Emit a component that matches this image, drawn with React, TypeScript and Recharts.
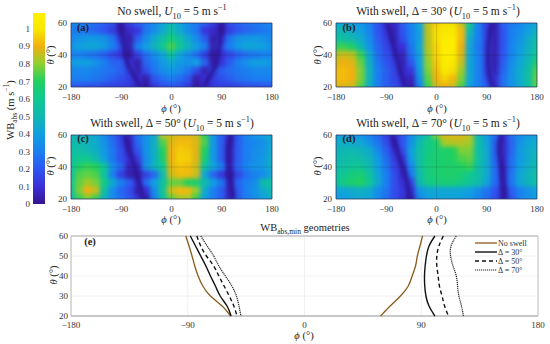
import React from 'react';
import {
  BarChart,
  Bar,
  ScatterChart,
  Scatter,
  XAxis,
  YAxis,
  CartesianGrid,
  ReferenceArea,
  ReferenceLine,
} from 'recharts';

const PHI_COLS = [-180, -165, -150, -135, -120, -105, -90, -75, -60, -45, -30, -15, 0, 15, 30, 45, 60, 75, 90, 105, 120, 135, 150, 165, 180];
const THETA_ROWS = [60, 55, 50, 45, 40, 35, 30, 25, 20];
const PHI_TICKS = [-180, -90, 0, 90, 180];

// WB values per theta row (60 down to 20), per phi column
const CELLS_A = [
  [.33, .30, .28, .25, .22, .18, .05, .14, .22, .28, .34, .42, .50, .42, .34, .28, .22, .14, .05, .18, .22, .25, .28, .30, .33],
  [.30, .28, .26, .24, .20, .14, .04, .08, .12, .28, .34, .44, .54, .44, .34, .28, .12, .08, .04, .14, .20, .24, .26, .28, .30],
  [.32, .36, .38, .38, .36, .28, .12, .04, .22, .34, .44, .54, .64, .54, .44, .34, .22, .04, .12, .28, .36, .38, .38, .36, .32],
  [.36, .40, .42, .42, .38, .30, .20, .05, .30, .40, .48, .60, .74, .60, .48, .40, .30, .05, .20, .30, .38, .42, .42, .40, .36],
  [.30, .30, .28, .26, .22, .16, .10, .02, .14, .26, .34, .42, .56, .42, .34, .26, .14, .02, .10, .16, .22, .26, .28, .30, .30],
  [.38, .40, .40, .36, .30, .24, .22, .12, .04, .24, .30, .38, .44, .38, .36, .40, .24, .04, .12, .22, .30, .36, .40, .40, .38],
  [.32, .32, .32, .30, .28, .26, .22, .16, .05, .18, .28, .34, .38, .34, .28, .18, .05, .16, .22, .26, .28, .30, .32, .32, .32],
  [.30, .30, .30, .28, .26, .22, .18, .14, .10, .04, .20, .26, .30, .26, .20, .04, .10, .14, .18, .22, .26, .28, .30, .30, .30],
  [.20, .20, .18, .18, .16, .14, .14, .12, .08, .02, .12, .18, .20, .18, .12, .02, .08, .12, .14, .14, .16, .18, .18, .20, .20],
];
const CELLS_B = [
  [.45, .42, .40, .36, .30, .20, .10, .08, .22, .32, .42, .85, .95, .98, .98, .85, .60, .30, .15, .06, .22, .28, .32, .38, .42],
  [.50, .48, .44, .40, .32, .20, .12, .06, .20, .30, .40, .85, .98, 1.0, 1.0, .92, .50, .30, .16, .05, .20, .30, .34, .40, .48],
  [.56, .54, .50, .44, .34, .22, .14, .06, .18, .30, .40, .84, .98, 1.04, 1.04, .92, .44, .30, .18, .05, .20, .30, .36, .44, .54],
  [.72, .72, .68, .50, .36, .24, .16, .10, .10, .28, .42, .84, .96, 1.07, 1.07, .90, .42, .28, .18, .05, .20, .32, .38, .46, .56],
  [.84, .86, .84, .72, .44, .26, .18, .12, .06, .26, .40, .82, .96, 1.07, 1.05, .88, .42, .30, .18, .05, .20, .32, .40, .48, .60],
  [.88, .90, .88, .76, .46, .28, .20, .14, .06, .20, .40, .80, .94, 1.04, 1.0, .86, .42, .30, .18, .05, .22, .34, .42, .50, .68],
  [.92, .92, .90, .78, .48, .30, .22, .16, .08, .12, .38, .78, .92, 1.0, .98, .82, .42, .30, .18, .06, .24, .36, .44, .54, .74],
  [.92, .92, .90, .78, .48, .30, .22, .16, .10, .06, .35, .75, .90, .96, .92, .78, .42, .30, .20, .10, .26, .36, .44, .54, .76],
  [.88, .88, .86, .74, .46, .30, .22, .18, .12, .03, .30, .72, .86, .90, .86, .74, .40, .30, .22, .08, .26, .36, .44, .54, .74],
];
const CELLS_C = [
  [.48, .48, .46, .42, .34, .24, .14, .08, .26, .36, .44, .84, .86, .88, .88, .86, .72, .38, .22, .08, .22, .32, .36, .40, .44],
  [.52, .50, .48, .44, .36, .26, .16, .06, .24, .36, .46, .74, .88, .92, .92, .88, .74, .38, .22, .06, .22, .30, .32, .36, .42],
  [.54, .54, .50, .46, .38, .28, .18, .08, .20, .36, .46, .70, .90, .95, .94, .88, .70, .38, .22, .06, .22, .30, .34, .36, .44],
  [.56, .60, .60, .52, .40, .28, .18, .10, .14, .34, .46, .68, .90, .96, .95, .88, .66, .38, .22, .06, .22, .30, .34, .38, .46],
  [.56, .68, .72, .70, .58, .34, .24, .06, .08, .36, .48, .60, .88, .94, .92, .86, .55, .42, .30, .10, .24, .32, .36, .38, .46],
  [.56, .74, .76, .74, .56, .30, .14, .04, .04, .14, .25, .50, .86, .92, .92, .86, .42, .24, .12, .02, .16, .26, .30, .34, .42],
  [.60, .76, .82, .78, .62, .44, .30, .22, .10, .26, .40, .55, .76, .76, .70, .66, .52, .40, .28, .08, .24, .30, .34, .52, .56],
  [.56, .78, .90, .85, .54, .34, .24, .18, .05, .10, .34, .58, .86, .92, .92, .80, .44, .30, .22, .06, .22, .30, .36, .44, .50],
  [.52, .72, .78, .72, .48, .34, .26, .20, .12, .04, .30, .55, .76, .82, .82, .72, .40, .30, .22, .06, .22, .30, .34, .40, .46],
];
const CELLS_D = [
  [.42, .40, .38, .36, .30, .24, .14, .10, .20, .34, .46, .56, .78, .88, .88, .88, .84, .50, .40, .26, .10, .26, .34, .38, .40],
  [.45, .45, .44, .42, .36, .28, .18, .08, .20, .36, .50, .62, .66, .82, .84, .84, .82, .54, .42, .24, .08, .24, .36, .42, .45],
  [.48, .50, .50, .48, .44, .34, .22, .10, .18, .40, .54, .62, .66, .68, .70, .78, .78, .54, .44, .24, .08, .24, .38, .44, .48],
  [.50, .52, .54, .52, .48, .38, .26, .14, .12, .38, .54, .64, .66, .68, .70, .74, .76, .56, .44, .24, .08, .26, .38, .44, .50],
  [.52, .54, .58, .58, .50, .40, .28, .16, .10, .32, .54, .64, .66, .68, .68, .70, .72, .54, .44, .26, .08, .26, .40, .46, .52],
  [.54, .60, .64, .66, .56, .42, .30, .18, .08, .28, .52, .64, .66, .68, .68, .66, .60, .54, .44, .26, .08, .28, .42, .48, .54],
  [.56, .64, .68, .70, .60, .44, .30, .18, .10, .16, .50, .62, .64, .66, .66, .62, .58, .52, .42, .26, .10, .28, .42, .48, .54],
  [.42, .42, .44, .46, .44, .34, .28, .18, .12, .10, .36, .42, .42, .42, .42, .42, .40, .34, .28, .20, .06, .22, .30, .36, .40],
  [.40, .40, .42, .44, .42, .34, .26, .18, .12, .04, .32, .40, .42, .42, .42, .40, .38, .32, .26, .18, .06, .20, .30, .36, .40],
];

// minimum-WB curves, phi at each theta in CURVE_THETA
const CURVE_THETA = [60, 55, 50, 45, 40, 35, 30, 25, 20];
const NO_SWELL_LEFT = [-91.5, -89, -86.7, -84.6, -82, -78.4, -72.5, -63.5, -57];
const NO_SWELL_RIGHT = [91, 89, 87, 85.6, 83, 80, 74, 66, 58.7];
const D30_LEFT = [-88, -84, -80, -76, -72.5, -68.7, -65, -59.7, -56.6];
const D30_RIGHT = [100.5, 96, 94, 93, 92.5, 92.7, 93.6, 96, 100.5];
const D50_LEFT = [-83, -80, -75.6, -70, -66, -62, -58, -54.5, -52];
const D50_RIGHT = [107, 103.6, 102, 102, 103, 104, 106, 108, 111];
const D70_LEFT = [-80, -75, -70, -66, -61, -56, -52.5, -50.5, -49];
const D70_RIGHT = [117, 113, 112.6, 114.5, 117, 118, 119, 121, 122.5];

const CBAR_TICKS = [0, 0.1, 0.2, 0.3, 0.4, 0.5, 0.6, 0.7, 0.8, 0.9, 1];
const CBAR_MAX = 1.09;
const COLOR_VALUES = [0, 0.1, 0.2, 0.3, 0.4, 0.5, 0.6, 0.7, 0.8, 0.9, 1, 1.09];
const COLOR_STOPS = ['#35158f', '#3a30d8', '#2f55f0', '#1a80f0', '#10a0e0', '#10b8b0', '#10c890', '#20d060', '#90d030', '#f0b010', '#f8e800', '#fff000'];

const FONT = '"Liberation Serif", serif';
const TICK = { fill: '#333', fontSize: 9, fontFamily: FONT };

function hexToRgb(h: string) {
  return [1, 3, 5].map((i) => parseInt(h.slice(i, i + 2), 16));
}

function colorFor(v: number) {
  let i = 0;
  while (i < COLOR_VALUES.length - 2 && v > COLOR_VALUES[i + 1]) i++;
  const t = Math.min(1, Math.max(0, (v - COLOR_VALUES[i]) / (COLOR_VALUES[i + 1] - COLOR_VALUES[i])));
  const a = hexToRgb(COLOR_STOPS[i]);
  const b = hexToRgb(COLOR_STOPS[i + 1]);
  return `rgb(${a.map((c, k) => Math.round(c + (b[k] - c) * t)).join(',')})`;
}

const curve = (phis: number[]) => phis.map((phi, i) => ({ phi, theta: CURVE_THETA[i] }));
const noMark = () => <g />;
const minusTick = (v: number) => String(v).replace('-', '−');

const PLOT_W = 201;
const PLOT_H = 64;
const M_TOP = 20;
const Y_W = 45;

function HeatPanel({ left, top, cells, valleys }: any) {
  const cw = PLOT_W / (PHI_COLS.length - 1);
  const ch = PLOT_H / (THETA_ROWS.length - 1);
  const data = cells.flatMap((row: number[], r: number) =>
    row.map((value, c) => ({ phi: PHI_COLS[c], theta: THETA_ROWS[r], value }))
  );
  const cell = (p: any) => {
    const { phi, theta, value } = p.payload;
    // edge cells overdraw so the blur does not fade at the frame
    const padL = phi === -180 ? 10 : 0;
    const padR = phi === 180 ? 10 : 0;
    const padT = theta === 60 ? 10 : 0;
    const padB = theta === 20 ? 10 : 0;
    return (
      <rect
        x={p.cx - cw / 2 - padL - 0.4}
        y={p.cy - ch / 2 - padT - 0.4}
        width={cw + padL + padR + 0.8}
        height={ch + padT + padB + 0.8}
        fill={colorFor(value)}
      />
    );
  };
  return (
    <>
      {/* the cells sit in their own chart, cut to the plot, so the blur stays inside the frame */}
      <div style={{ position: 'absolute', left, top, width: PLOT_W, height: PLOT_H, overflow: 'hidden' }}>
        <ScatterChart width={PLOT_W} height={PLOT_H} margin={{ top: 0, right: 0, bottom: 0, left: 0 }}>
          <XAxis type="number" dataKey="phi" domain={[-180, 180]} hide />
          <YAxis type="number" dataKey="theta" domain={[20, 60]} hide />
          <Scatter className="heat-cells" data={data} shape={cell} isAnimationActive={false} />
          {valleys.map((phis: number[], i: number) => (
            <Scatter
              key={i}
              className="heat-valley"
              data={curve(phis)}
              shape={noMark}
              line={{ stroke: '#2c1698', strokeWidth: 4.5 }}
              lineJointType="natural"
              isAnimationActive={false}
            />
          ))}
        </ScatterChart>
      </div>
      <div style={{ position: 'absolute', left: left - Y_W, top: top - M_TOP }}>
        <ScatterChart
          width={Y_W + PLOT_W + 15}
          height={M_TOP + PLOT_H + 30}
          margin={{ top: M_TOP, right: 15, bottom: 0, left: 0 }}
        >
          <XAxis
            type="number"
            dataKey="phi"
            domain={[-180, 180]}
            ticks={PHI_TICKS}
            height={30}
            tick={TICK}
            tickSize={0}
            tickMargin={7}
            axisLine={false}
            interval={0}
            tickFormatter={minusTick}
          />
          <YAxis
            type="number"
            dataKey="theta"
            domain={[20, 60]}
            ticks={[20, 40, 60]}
            width={Y_W}
            tick={TICK}
            tickSize={0}
            tickMargin={4}
            axisLine={false}
            interval={0}
          />
          {/* invisible series so this frame chart draws its axes */}
          <Scatter data={data} shape={noMark} isAnimationActive={false} />
          <ReferenceLine y={40} stroke="#000" strokeOpacity={0.12} />
          <ReferenceLine x={0} stroke="#000" strokeOpacity={0.12} />
          <ReferenceArea x1={-180} x2={180} y1={20} y2={60} fill="none" stroke="#24305c" strokeOpacity={0.75} />
        </ScatterChart>
      </div>
    </>
  );
}

const SERIES = [
  { name: 'No swell', left: NO_SWELL_LEFT, right: NO_SWELL_RIGHT, stroke: '#8a5a1c', width: 1.3, dash: undefined },
  { name: 'Δ = 30°', left: D30_LEFT, right: D30_RIGHT, stroke: '#111', width: 1.4, dash: undefined },
  { name: 'Δ = 50°', left: D50_LEFT, right: D50_RIGHT, stroke: '#111', width: 1.4, dash: '4 3' },
  { name: 'Δ = 70°', left: D70_LEFT, right: D70_RIGHT, stroke: '#222', width: 1.2, dash: '1.2 0.8' },
];

function CurveLegend() {
  return (
    <div style={{ position: 'absolute', left: 475, top: 238.5, fontFamily: FONT, fontSize: 8, color: '#333' }}>
      {SERIES.map((s) => (
        <div key={s.name} style={{ display: 'flex', alignItems: 'center', height: 9 }}>
          <svg width={22} height={4} style={{ marginRight: 1 }}>
            <line x1={0} x2={22} y1={2} y2={2} stroke={s.stroke} strokeWidth={s.width} strokeDasharray={s.dash} />
          </svg>
          {s.name}
        </div>
      ))}
    </div>
  );
}

function CurvesPanel() {
  return (
    <div style={{ position: 'absolute', left: 71 - Y_W, top: 236 - 10 }}>
      <ScatterChart width={Y_W + 467 + 12} height={10 + 80 + 28} margin={{ top: 10, right: 12, bottom: 0, left: 0 }}>
        <CartesianGrid stroke="#ececec" strokeWidth={0.8} />
        <XAxis
          type="number"
          dataKey="phi"
          domain={[-180, 180]}
          ticks={PHI_TICKS}
          height={28}
          tick={TICK}
          tickSize={0}
          tickMargin={6}
          axisLine={{ stroke: '#9a9a9a' }}
          interval={0}
          tickFormatter={minusTick}
        />
        <YAxis
          type="number"
          dataKey="theta"
          domain={[20, 60]}
          ticks={[20, 30, 40, 50, 60]}
          width={Y_W}
          tick={TICK}
          tickSize={0}
          tickMargin={3}
          axisLine={{ stroke: '#bdbdbd' }}
          interval={0}
        />
        <ReferenceLine y={60} stroke="#c4c4c4" strokeWidth={1.6} />
        <ReferenceLine x={180} stroke="#c4c4c4" />
        {SERIES.flatMap((s) =>
          [s.left, s.right].map((phis, i) => (
            <Scatter
              key={s.name + i}
              name={s.name}
              data={curve(phis)}
              shape={noMark}
              line={{ stroke: s.stroke, strokeWidth: s.width, strokeDasharray: s.dash }}
              lineJointType="natural"
              isAnimationActive={false}
            />
          ))
        )}
      </ScatterChart>
    </div>
  );
}

function Colorbar() {
  return (
    <div style={{ position: 'absolute', left: 0, top: 5 }}>
      <BarChart
        width={46}
        height={207}
        data={[{ name: 'WB', top: CBAR_MAX }]}
        margin={{ top: 8, right: 1, bottom: 8, left: 0 }}
        barCategoryGap={0}
      >
        <defs>
          <linearGradient id="cbar" x1="0" y1="1" x2="0" y2="0">
            {COLOR_VALUES.map((v, i) => (
              <stop key={v} offset={v / CBAR_MAX} stopColor={COLOR_STOPS[i]} />
            ))}
          </linearGradient>
        </defs>
        <XAxis dataKey="name" hide />
        <YAxis
          type="number"
          domain={[0, CBAR_MAX]}
          ticks={CBAR_TICKS}
          width={33}
          tick={TICK}
          tickSize={0}
          tickMargin={3}
          axisLine={false}
          interval={0}
        />
        <Bar dataKey="top" fill="url(#cbar)" isAnimationActive={false} />
      </BarChart>
    </div>
  );
}

function Label({ x, y, children, rotate, size = 11.5, bold }: any) {
  return (
    <div
      style={{
        position: 'absolute',
        left: x,
        top: y,
        transform: `translate(-50%, -50%)${rotate ? ' rotate(-90deg)' : ''}`,
        fontFamily: FONT,
        fontSize: size,
        fontWeight: bold ? 700 : 400,
        color: '#222',
        whiteSpace: 'nowrap',
        lineHeight: 1,
      }}
    >
      {children}
    </div>
  );
}

const Sub = ({ children }: any) => <sub style={{ fontSize: '0.72em', lineHeight: 0 }}>{children}</sub>;
const Sup = ({ children }: any) => <sup style={{ fontSize: '0.72em', lineHeight: 0 }}>{children}</sup>;

const U10 = () => (
  <>
    <i>U</i>
    <Sub>10</Sub> = 5 m s<Sup>−1</Sup>
  </>
);

const PhiLabel = ({ x, y }: any) => (
  <Label x={x} y={y} size={10.5}>
    <i>ϕ</i> (°)
  </Label>
);
const ThetaLabel = ({ x, y }: any) => (
  <Label x={x} y={y} size={10.5} rotate>
    <i>θ</i> (°)
  </Label>
);

export default function App() {
  return (
    <div style={{ position: 'absolute', left: 0, top: 0, width: 550, height: 344, background: '#fff', overflow: 'hidden' }}>
      <style>{`.heat-cells { filter: blur(2px); } .heat-valley { filter: blur(1.4px); }`}</style>
      <Colorbar />
      <Label x={11} y={110} size={10.5} rotate>
        WB<Sub>abs</Sub> (m s<Sup>−1</Sup>)
      </Label>

      <HeatPanel left={71} top={23} cells={CELLS_A} valleys={[NO_SWELL_LEFT, NO_SWELL_RIGHT]} />
      <HeatPanel left={336} top={23} cells={CELLS_B} valleys={[D30_LEFT, D30_RIGHT]} />
      <HeatPanel left={71} top={134.5} cells={CELLS_C} valleys={[D50_LEFT, D50_RIGHT]} />
      <HeatPanel left={336} top={134.5} cells={CELLS_D} valleys={[D70_LEFT, D70_RIGHT]} />
      <CurvesPanel />
      <CurveLegend />

      <Label x={172} y={12}>No swell, <U10 /></Label>
      <Label x={438} y={12}>With swell, Δ = 30° (<U10 />)</Label>
      <Label x={172} y={124}>With swell, Δ = 50° (<U10 />)</Label>
      <Label x={438} y={124}>With swell, Δ = 70° (<U10 />)</Label>
      <Label x={305} y={228} size={10.5}>
        WB<Sub>abs,min</Sub> geometries
      </Label>

      <Label x={83} y={28} size={10.5} bold>(a)</Label>
      <Label x={349} y={28} size={10.5} bold>(b)</Label>
      <Label x={83} y={139} size={10.5} bold>(c)</Label>
      <Label x={349} y={139} size={10.5} bold>(d)</Label>
      <Label x={90} y={242} size={10.5} bold>(e)</Label>

      <PhiLabel x={171} y={109} />
      <PhiLabel x={437} y={109} />
      <PhiLabel x={171} y={220} />
      <PhiLabel x={437} y={220} />
      <PhiLabel x={304} y={336} />
      <ThetaLabel x={51} y={55} />
      <ThetaLabel x={318} y={55} />
      <ThetaLabel x={51} y={166} />
      <ThetaLabel x={318} y={166} />
      <ThetaLabel x={54} y={275} />
    </div>
  );
}
